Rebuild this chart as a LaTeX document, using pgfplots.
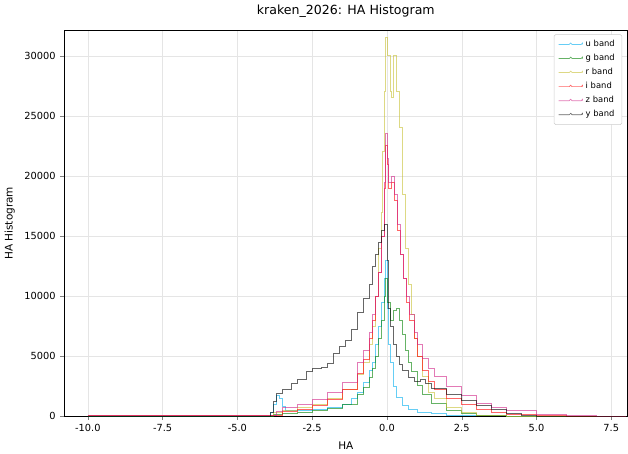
\documentclass[border=0pt]{standalone}
\usepackage{pgfplots}
\pgfplotsset{compat=1.18}
\usepackage{fontspec}
\setmainfont{DejaVu Sans}
\begin{document}
\begin{tikzpicture}
\begin{axis}[scale only axis, width=402bp, height=275bp,
 xmin=-10.8, xmax=8.05, ymin=0, ymax=32100,
 xtick={-10,-7.5,-5,-2.5,0,2.5,5,7.5},
 ytick={0,5000,10000,15000,20000,25000,30000},
 scaled y ticks=false, /pgf/number format/assume math mode=true,
 yticklabel style={/pgf/number format/1000 sep={}},
 xticklabel style={/pgf/number format/fixed, /pgf/number format/fixed zerofill, /pgf/number format/precision=1},
 tick label style={font=\fontsize{7}{8}\selectfont},
 label style={font=\fontsize{7.5}{9}\selectfont},
 title style={font=\fontsize{9}{10}\selectfont},
 title={kraken\_2026: HA Histogram}, xlabel={HA}, ylabel={HA Histogram},
 grid=major, grid style={gray!20, line width=0.3pt},
 tick align=outside, major tick length=2.5pt,
 xtick pos=bottom, ytick pos=left,
 no markers,
 every axis plot/.append style={const plot, line width=0.5pt, opacity=0.6},
 legend style={at={(0.99,0.99)}, anchor=north east, font=\fontsize{6}{7}\selectfont, draw=gray!40, rounded corners=1pt},
 legend cell align=left,
]
% u band
\addplot[cyan] coordinates {(-10,0)(-4,0)(-3.9,300)(-3.8,1000)(-3.7,1700)(-3.6,1500)(-3.5,800)(-3.4,500)(-3,450)(-2.5,550)(-2,700)(-1.5,1000)(-1.2,1500)(-1,2000)(-0.8,2800)(-0.6,3800)(-0.5,4500)(-0.4,6000)(-0.3,7500)(-0.2,9500)(-0.1,11500)(-0.05,13000)(0,9000)(0.05,6000)(0.1,4500)(0.2,2500)(0.3,1600)(0.5,900)(0.7,600)(1,350)(1.5,200)(2,100)(3,30)(4,0)(8,0)};
% g band
\addplot[green!50!black] coordinates {(-10,0)(-4,0)(-3.8,150)(-3.5,200)(-3,300)(-2.5,450)(-2,650)(-1.5,1000)(-1,1800)(-0.8,2400)(-0.6,3200)(-0.5,4000)(-0.4,5000)(-0.3,6500)(-0.2,8000)(-0.1,10000)(-0.05,11500)(0,9500)(0.1,8000)(0.2,8800)(0.3,9000)(0.4,8000)(0.5,6800)(0.6,5500)(0.7,4500)(0.8,3700)(1,2600)(1.2,1800)(1.5,1100)(2,450)(2.5,200)(3,100)(4,0)(8,0)};
% r band
\addplot[yellow!75!black] coordinates {(-10,50)(-5,50)(-4,100)(-3.8,300)(-3.5,450)(-3,700)(-2.5,1000)(-2,1500)(-1.5,2200)(-1,3500)(-0.8,4500)(-0.6,6000)(-0.5,7500)(-0.4,10000)(-0.3,14000)(-0.2,17000)(-0.15,22000)(-0.1,27000)(-0.05,31500)(0,30000)(0.1,27000)(0.15,26500)(0.2,30000)(0.3,27000)(0.4,24000)(0.5,18500)(0.6,14000)(0.7,11000)(0.8,8500)(0.9,6500)(1,5000)(1.2,3300)(1.4,2000)(1.6,1500)(2,700)(2.5,300)(3,100)(4,0)(8,0)};
% i band
\addplot[red] coordinates {(-10,30)(-5,30)(-4,100)(-3.5,400)(-3,600)(-2.5,900)(-2,1400)(-1.5,2200)(-1,3600)(-0.8,4700)(-0.6,6500)(-0.5,8000)(-0.4,10000)(-0.3,12000)(-0.2,15000)(-0.1,19000)(-0.05,22500)(0,21000)(0.05,19000)(0.15,19500)(0.25,18000)(0.35,15500)(0.45,13500)(0.55,11500)(0.65,9500)(0.75,8000)(0.9,6500)(1,5000)(1.2,3800)(1.4,2900)(1.6,2200)(2,1500)(2.5,1000)(3,600)(3.5,350)(4,150)(5,50)(6,0)(8,0)};
% z band
\addplot[magenta!70!violet] coordinates {(-10,30)(-5,30)(-4,100)(-3.7,400)(-3.5,700)(-3,1000)(-2.5,1400)(-2,2000)(-1.5,2800)(-1,4500)(-0.8,5500)(-0.6,7000)(-0.5,8500)(-0.4,10000)(-0.3,12000)(-0.2,15000)(-0.1,19500)(-0.05,23500)(0,21500)(0.05,19500)(0.15,20000)(0.25,18500)(0.35,16000)(0.45,13500)(0.55,11500)(0.65,10000)(0.75,8500)(0.9,7000)(1,6000)(1.2,4800)(1.4,4000)(1.6,3300)(2,2500)(2.5,1700)(3,1100)(3.5,700)(4,450)(5,150)(6,50)(7,10)(7.3,0)(8,0)};
% y band
\addplot[black] coordinates {(-10,0)(-4,0)(-3.9,300)(-3.8,1200)(-3.7,1900)(-3.5,2200)(-3.2,2700)(-3,3100)(-2.7,3700)(-2.5,4000)(-2.2,4100)(-2,4400)(-1.8,5200)(-1.6,5800)(-1.4,6300)(-1.2,7200)(-1,8600)(-0.8,9800)(-0.6,11000)(-0.5,12500)(-0.4,13500)(-0.3,14500)(-0.2,15500)(-0.1,16000)(0,13000)(0.05,9000)(0.1,7500)(0.2,6000)(0.3,5000)(0.4,4300)(0.5,3800)(0.7,3200)(0.9,2900)(1.1,3100)(1.3,2700)(1.5,2300)(2,1800)(2.5,1300)(3,900)(3.5,600)(4,250)(4.5,50)(5,0)(8,0)};
\legend{u band, g band, r band, i band, z band, y band}
\end{axis}
\end{tikzpicture}
\end{document}
